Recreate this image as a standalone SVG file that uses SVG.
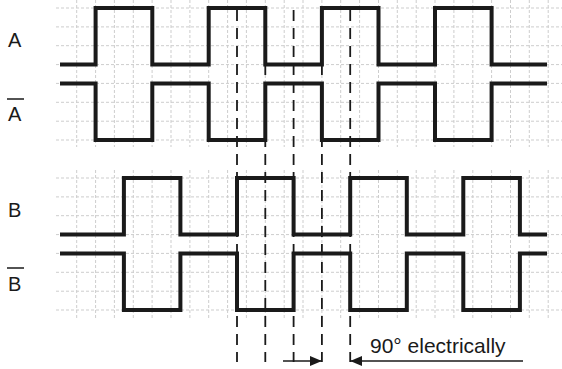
<svg xmlns="http://www.w3.org/2000/svg" width="562" height="369" viewBox="0 0 562 369">
<style>
.grid{stroke:#cdcdcd;stroke-width:1;stroke-dasharray:3,2;fill:none}
.sig{stroke:#1a1a1a;stroke-width:4;fill:none;stroke-linejoin:miter}
.dash{stroke:#1a1a1a;stroke-width:1.8;stroke-dasharray:11,7;fill:none}
.lbl{font-family:"Liberation Sans",Arial,sans-serif;font-size:20px;fill:#1a1a1a}
.ov{stroke:#1a1a1a;stroke-width:1.5}
.arr{stroke:#1a1a1a;stroke-width:1.6;fill:none}
</style>
<defs>
<marker id="ah" viewBox="0 0 12 10" refX="12" refY="5" markerWidth="12" markerHeight="10" markerUnits="userSpaceOnUse" orient="auto">
<path d="M0,0 L12,5 L0,10 Z" fill="#1a1a1a"/>
</marker>
</defs>
<rect width="562" height="369" fill="#ffffff"/>
<g id="grid">
<path class="grid" d="M56,8H562M56,26.9H562M56,45.7H562M56,64.6H562M56,83.4H562M56,102.3H562M56,121.2H562M56,140H562
M56,178H562M56,196.9H562M56,215.7H562M56,234.6H562M56,253.4H562M56,272.3H562M56,291.2H562M56,310H562"/>
<path class="grid" d="M76.7,0V147M95.6,0V147M114.4,0V147M133.3,0V147M152.1,0V147M171,0V147M189.9,0V147M208.7,0V147M227.6,0V147M246.4,0V147M265.3,0V147M284.2,0V147M303,0V147M321.9,0V147M340.7,0V147M359.6,0V147M378.5,0V147M397.3,0V147M416.2,0V147M435,0V147M453.9,0V147M472.8,0V147M491.6,0V147M510.5,0V147M529.3,0V147M548.2,0V147"/>
<path class="grid" d="M76.7,170V318M95.6,170V318M114.4,170V318M133.3,170V318M152.1,170V318M171,170V318M189.9,170V318M208.7,170V318M227.6,170V318M246.4,170V318M265.3,170V318M284.2,170V318M303,170V318M321.9,170V318M340.7,170V318M359.6,170V318M378.5,170V318M397.3,170V318M416.2,170V318M435,170V318M453.9,170V318M472.8,170V318M491.6,170V318M510.5,170V318M529.3,170V318M548.2,170V318"/>
</g>
<g id="connectors">
<path class="dash" d="M237,10V362M265.3,10V362M293.6,10V362M321.9,10V362M350.2,10V362"/>
<line class="arr" x1="283" y1="361" x2="321.9" y2="361" marker-end="url(#ah)"/>
<line class="arr" x1="523" y1="361" x2="350.2" y2="361" marker-end="url(#ah)"/>
</g>
<g id="signal-A">
<path class="sig" d="M60,64.6H95.6V8H152.3V64.6H208.7V8H265.3V64.6H321.9V8H378.5V64.6H435V8H491.6V64.6H547"/>
<text class="lbl" x="8" y="47">A</text>
</g>
<g id="signal-A-bar">
<path class="sig" d="M60,83.4H95.6V140H152.3V83.4H208.7V140H265.3V83.4H321.9V140H378.5V83.4H435V140H491.6V83.4H547"/>
<line class="ov" x1="7" y1="99" x2="24" y2="99"/>
<text class="lbl" x="8" y="121">A</text>
</g>
<g id="signal-B">
<path class="sig" d="M60,234.6H123.9V178H180.4V234.6H237V178H293.6V234.6H350.2V178H406.8V234.6H463.3V178H519.9V234.6H547"/>
<text class="lbl" x="8" y="217">B</text>
</g>
<g id="signal-B-bar">
<path class="sig" d="M60,253.4H123.9V310H180.4V253.4H237V310H293.6V253.4H350.2V310H406.8V253.4H463.3V310H519.9V253.4H547"/>
<line class="ov" x1="7" y1="268" x2="24" y2="268"/>
<text class="lbl" x="8" y="291">B</text>
</g>
<g id="label-90">
<text class="lbl" x="370" y="353" style="font-size:21px">90° electrically</text>
</g>
</svg>
